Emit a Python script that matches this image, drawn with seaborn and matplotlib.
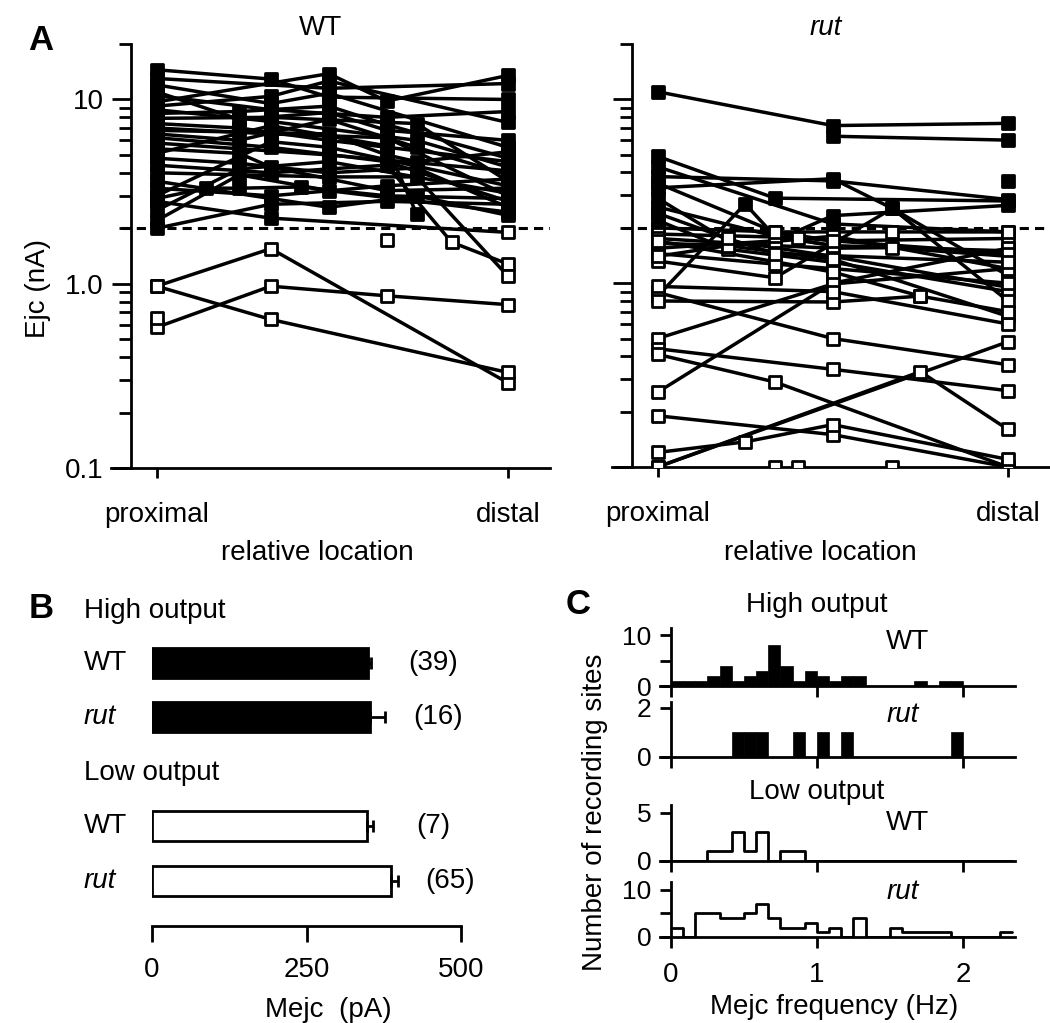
import numpy as np
import pandas as pd
import matplotlib
matplotlib.use("Agg")
import matplotlib.pyplot as plt
import seaborn as sns
from matplotlib.ticker import FixedLocator, NullFormatter

# ---------------- panel A: Ejc along the nerve terminal ----------------
# relative recording location (0 = proximal, 1 = distal) and Ejc (nA), one list per NMJ
wt_sites = [
    [0, .325, .49, 1], [0, .49, .655, 1], [0, .325, .49, 1], [0, .235, .49, .655, 1],
    [0, .325, .74, 1], [0, .235, .49, 1], [0, .325, .655, 1], [0, .235, .49, .74, 1],
    [0, .325, .655, 1], [0, .49, 1], [0, .235, .325, .655, 1], [0, .325, .655, .74],
    [0, .235, .49, .74, 1], [0, .325, .655, .84, 1], [0, .49, .74, 1],
    [0, .14, .235, .41, .655, 1], [0, .325, .655, 1], [0, .325, .49, 1], [0, .325, 1],
    [0, .235, .49, 1], [0, .325, .655, 1], [0, .235, .49, .655, 1], [0, .325, .49, 1],
    [0, .49, .655, .74, 1], [0, .325, .655, 1], [0, .49, .74, 1], [0, .235, .49, 1],
    [0, .49, 1], [0, .325, .74, 1],
    [0, .325, 1], [0, .325, 1], [0, .325, .655, 1], [0], [.655],
]
wt_ejc = [
    [14.5, 12.9, 10.3, 10.0], [9.7, 13.8, 9.8, 13.5], [9.2, 10.4, 12.6, 7.5], [8.4, 8.6, 9.2, 7.3, 4.8],
    [7.9, 8.0, 7.4, 3.6], [7.4, 7.0, 6.0, 4.6], [7.0, 6.5, 6.2, 3.0], [6.5, 6.0, 7.8, 5.5, 3.9],
    [6.2, 5.5, 4.6, 2.8], [5.8, 5.0, 4.1], [5.4, 5.1, 4.3, 3.2, 3.3], [5.1, 7.2, 5.6, 2.4],
    [4.8, 4.5, 4.0, 4.25, 2.6], [4.4, 4.0, 4.4, 1.68, 1.28], [4.0, 3.8, 3.8, 1.1],
    [2.9, 3.3, 3.3, 3.35, 3.0, 2.9], [3.3, 3.0, 3.4, 3.7], [3.0, 5.9, 5.5, 3.4], [2.8, 2.27, 1.9],
    [2.2, 3.9, 3.2, 2.45], [2.0, 2.7, 2.8, 2.7], [11.0, 7.8, 8.5, 6.8, 6.0], [12.0, 9.5, 10.8, 5.5],
    [6.8, 6.5, 5.0, 4.6, 5.2], [10.5, 8.8, 8.0, 8.6], [3.6, 2.6, 3.0, 2.35], [2.5, 4.2, 4.6, 3.1],
    [13.0, 11.5, 12.2], [8.8, 7.6, 6.0, 4.3],
    [0.97, 1.55, 0.29], [0.97, 0.64, 0.33], [0.58, 0.97, 0.86, 0.77], [0.65], [1.72],
]
rut_sites = [
    [0, .5, 1], [.5, 1], [0, .335, 1], [0, .5, 1], [0, .5, .67, 1], [0, .2, .5, 1], [1],
    [0, .25, .335, .5, 1], [0, .2, .5, 1], [0, .335, .67, 1], [0, .4, .5, 1],
    [0, .335, .5, .67, 1], [0, .2, .5, 1], [0, .335, .5, 1], [0, .335, .5, 1],
    [0, .335, .67, 1], [0, .5, 1], [0, .5, .75], [0, .5, 1], [0, .5, 1], [0, .5, 1],
    [0, .335, 1], [0, .5, 1], [0, .25, .5, 1], [0, .75, 1], [0, 1], [.335], [.4], [.67],
    [0, .2, .5, 1], [0, .5, 1], [0, .5, .75, 1], [0, .335, .5],
    [0, .335, .5, 1], [0, .2, .335, 1], [0, .5, 1],
]
rut_ejc = [
    [11.0, 7.2, 7.4], [6.3, 6.0], [4.9, 2.9, 2.8], [3.8, 3.6, 2.85], [3.3, 3.7, 2.55, 1.1],
    [2.9, 1.7, 1.4, 0.95], [3.6],
    [0.85, 2.7, 1.8, 1.6, 1.5], [2.2, 1.53, 1.3, 0.9], [2.0, 1.9, 1.9, 1.9], [1.85, 1.77, 1.7, 1.75],
    [1.75, 1.6, 1.55, 1.56, 1.4], [1.65, 1.6, 1.8, 1.2], [1.55, 1.7, 2.33, 2.65], [1.45, 1.27, 1.2, 1.0],
    [1.32, 1.07, 2.55, 0.8], [0.89, 0.5, 0.36], [0.8, 0.79, 0.85], [0.5, 0.99, 1.2], [0.255, 1.0, 1.55],
    [0.44, 0.34, 0.26], [0.41, 0.29, 0.1], [0.19, 0.15, 0.1], [0.12, 0.137, 0.17, 0.11],
    [0.1, 0.33, 0.16], [0.1, 0.48], [0.1], [0.1], [0.1],
    [1.4, 1.6, 1.35, 0.66], [0.96, 0.9, 0.6], [1.7, 1.15, 0.85, 0.7], [2.6, 1.8, 1.6],
    [3.5, 1.9, 1.7, 1.45], [2.4, 1.75, 1.45, 1.3], [4.3, 2.1, 1.9],
]
CUTOFF = 2.0  # nA, high / low output boundary

# ---------------- panel B: mean Mejc ----------------
b_rows = ["WT high", "rut high", "WT low", "rut low"]
b_genotype = ["WT", "rut", "WT", "rut"]
b_output = ["High", "High", "Low", "Low"]
b_mejc = [349, 353, 348, 387]
b_sem = [6, 24, 10, 11]
b_n = ["(39)", "(16)", "(7)", "(65)"]

# ---------------- panel C: Mejc frequency histograms ----------------
BIN_W = 1 / 12  # Hz
hist_high_wt = [1, 1, 1, 2, 4, 1, 2, 3, 8, 4, 1, 3, 2, 1, 2, 2, 0, 0, 0, 0, 1, 0, 1, 1, 0, 0, 0, 0]
hist_high_rut = [0, 0, 0, 0, 0, 1, 1, 1, 0, 0, 1, 0, 1, 0, 1, 0, 0, 0, 0, 0, 0, 0, 0, 1, 0, 0, 0, 0]
hist_low_wt = [0, 0, 0, 1, 1, 3, 1, 3, 0, 1, 1, 0, 0, 0, 0, 0, 0, 0, 0, 0, 0, 0, 0, 0, 0, 0, 0, 0]
hist_low_rut = [2, 0, 5, 5, 4, 4, 5, 7, 4, 2, 2, 3, 1, 2, 0, 4, 0, 0, 2, 1, 1, 1, 1, 0, 0, 0, 0, 1]

sns.set_theme(style="ticks", rc={
    "text.color": "black", "axes.edgecolor": "black", "axes.labelcolor": "black",
    "xtick.color": "black", "ytick.color": "black", "axes.linewidth": 2,
})
plt.rcParams["font.family"] = ["Liberation Sans", "DejaVu Sans"]
plt.rcParams["font.size"] = 20
FS = 20

W, H = 1050, 1023
fig = plt.figure(figsize=(W / 100, H / 100), dpi=100)


def add_ax(l, t, r, b):
    return fig.add_axes([l / W, 1 - b / H, (r - l) / W, (b - t) / H])


def label(x, y, s, **kw):
    kw.setdefault("ha", "center")
    kw.setdefault("va", "center")
    kw.setdefault("fontsize", FS)
    fig.text(x / W, 1 - y / H, s, **kw)


def draw_ejc(ax, sites, ejc, show_labels):
    rows = []
    for i, (xs, ys) in enumerate(zip(sites, ejc)):
        for x, y in zip(xs, ys):
            rows.append((i, x, y))
    df = pd.DataFrame(rows, columns=["rec", "loc", "ejc"])
    high = df["ejc"] >= CUTOFF
    ax.set_yscale("log")
    sns.lineplot(data=df, x="loc", y="ejc", units="rec", estimator=None, sort=False,
                 color="black", linewidth=2.5, ax=ax, zorder=2)
    sns.scatterplot(data=df[high], x="loc", y="ejc", marker="s", s=72, color="black",
                    edgecolor="black", linewidth=2, ax=ax, zorder=3)
    sns.scatterplot(data=df[~high], x="loc", y="ejc", marker="s", s=72, color="white",
                    edgecolor="black", linewidth=2, ax=ax, zorder=3)
    ax.axhline(CUTOFF, xmin=0.023, color="black", lw=2.2, ls=(0, (3, 2)), zorder=1)
    ax.set_xlim(-0.13, 1.12)
    ax.set_ylim(0.1, 20)
    ax.spines[["top", "right"]].set_visible(False)
    ax.spines["left"].set_position(("data", -0.072))
    ax.yaxis.set_major_locator(FixedLocator([0.1, 1, 10]))
    minors = [m * d for d in (0.1, 1) for m in range(2, 10)] + [20]
    ax.yaxis.set_minor_locator(FixedLocator(minors))
    ax.yaxis.set_minor_formatter(NullFormatter())
    ax.set_yticklabels(["0.1", "1.0", "10"] if show_labels else [])
    ax.tick_params(axis="y", which="major", length=14, width=2, pad=6, labelsize=FS)
    ax.tick_params(axis="y", which="minor", length=8.5, width=2)
    ax.set_xticks([0, 1], ["proximal", "distal"])
    ax.tick_params(axis="x", length=7, width=2, pad=17.5, labelsize=FS)
    ax.set_xlabel("")
    ax.set_ylabel("")


ax_wt = add_ax(111, 44, 550, 468)
draw_ejc(ax_wt, wt_sites, wt_ejc, True)
ax_rut = add_ax(612, 44, 1050, 467)
draw_ejc(ax_rut, rut_sites, rut_ejc, False)

label(320, 28, "WT")
label(826, 28, "rut", fontstyle="italic")
label(317, 553, "relative location")
label(820, 553, "relative location")
label(38, 288, "Ejc (nA)", rotation=90)
label(41, 41, "A", fontsize=25, fontweight="bold")

# ---------------- panel B ----------------
axb = add_ax(152, 581, 461, 926)
b_df = pd.DataFrame({"row": b_rows, "mejc": b_mejc, "output": b_output})
order = ["WT high", "rut high", "gap", "WT low", "rut low"]
sns.barplot(data=b_df, y="row", x="mejc", order=order, hue="output",
            palette={"High": "black", "Low": "white"}, edgecolor="black", linewidth=2,
            width=0.55, dodge=False, legend=False, errorbar=None, ax=axb)
ypos = [order.index(r) for r in b_rows]
axb.errorbar(b_mejc, ypos, xerr=[np.zeros(len(b_sem)), b_sem], fmt="none", ecolor="black",
             elinewidth=2, capsize=4.5, capthick=2, zorder=5)
axb.set_xlim(0, 500)
axb.set_ylim(4.826, -1.5)
axb.spines[["top", "right", "left"]].set_visible(False)
axb.spines["bottom"].set_bounds(0, 500)
axb.set_yticks([])
axb.set_xticks([0, 250, 500])
axb.tick_params(axis="x", length=11.5, width=2, pad=11, labelsize=FS)
axb.set_xlabel("")
axb.set_ylabel("")
for g, p in zip(b_genotype, ypos):
    axb.text(-110, p, g, ha="left", va="center", fontsize=FS, clip_on=False,
             fontstyle="italic" if g == "rut" else "normal")
axb.text(-110, -0.95, "High output", ha="left", va="center", fontsize=FS, clip_on=False)
axb.text(-110, 2.02, "Low output", ha="left", va="center", fontsize=FS, clip_on=False)
for s, p, x in zip(b_n, ypos, [455, 463, 456, 482]):
    axb.text(x, p, s, ha="center", va="center", fontsize=FS, clip_on=False)
label(328, 1010, "Mejc  (pA)")
label(41, 609, "B", fontsize=25, fontweight="bold")

# ---------------- panel C ----------------
edges = [k * BIN_W for k in range(len(hist_low_rut) + 1)]
centers = [e + BIN_W / 2 for e in edges[:-1]]
hists = [
    (hist_high_wt, True, (628, 686), 11.4, [0, 5, 10], ["0", "", "10"]),
    (hist_high_rut, True, (702, 757), 2.24, [0, 2], ["0", "2"]),
    (hist_low_wt, False, (805, 861), 5.83, [0, 5], ["0", "5"]),
    (hist_low_rut, False, (882, 937), 11.7, [0, 5, 10], ["0", "", "10"]),
]
for i, (counts, filled, (t, b), ytop, yt, ytl) in enumerate(hists):
    ax = add_ax(660, t, 1015, b)
    hdf = pd.DataFrame({"freq": centers, "n": counts})
    if filled:
        sns.histplot(data=hdf, x="freq", weights="n", bins=edges, element="bars", color="black",
                     edgecolor="black", linewidth=0.5, alpha=1, ax=ax)
    else:
        sns.histplot(data=hdf, x="freq", weights="n", bins=edges, element="step", fill=False,
                     color="black", linewidth=2, ax=ax)
    ax.set_xlim(-0.075, 2.356)
    ax.set_ylim(0, ytop)
    ax.spines[["top", "right"]].set_visible(False)
    ax.spines["left"].set_position(("data", 0))
    ax.spines["left"].set_bounds(0, ytop)
    ax.set_yticks(yt, ytl)
    ax.set_xticks([0, 1, 2])
    if i < 3:
        ax.set_xticklabels([])
    ax.tick_params(axis="both", length=8, width=2, labelsize=19)
    ax.tick_params(axis="y", pad=6)
    ax.tick_params(axis="x", pad=10, labelsize=FS)
    ax.set_xlabel("")
    ax.set_ylabel("")

label(817, 605, "High output")
label(817, 792, "Low output")
label(907, 642, "WT")
label(903, 715, "rut", fontstyle="italic")
label(907, 823, "WT")
label(903, 892, "rut", fontstyle="italic")
label(595, 812, "Number of recording sites", rotation=90)
label(834, 1007, "Mejc frequency (Hz)")
label(578, 605, "C", fontsize=25, fontweight="bold")

fig.savefig("out.png", dpi=100)
